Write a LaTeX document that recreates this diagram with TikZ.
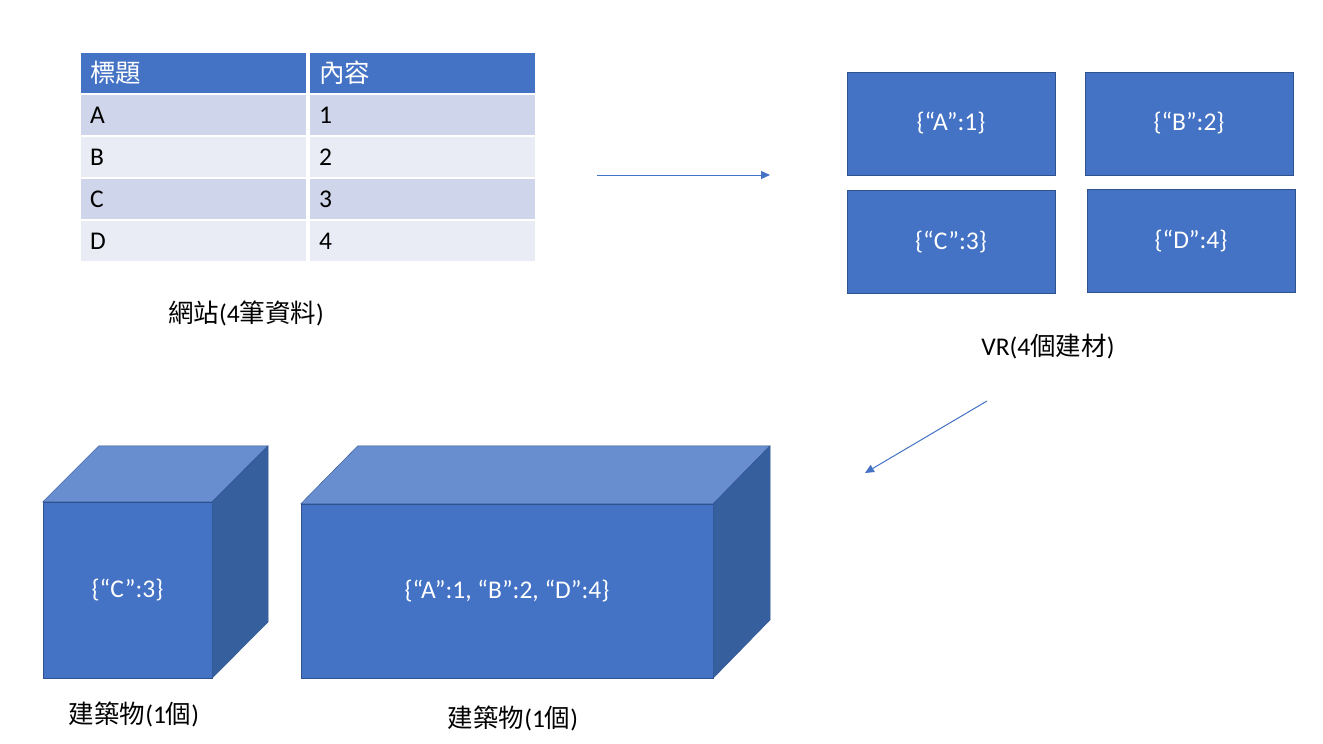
\documentclass[tikz,border=0pt]{standalone}
\usepackage{fontspec}
\setmainfont{Carlito}
\newfontfamily\cjk{Noto Sans CJK TC}
\usetikzlibrary{arrows.meta}
\definecolor{mainblue}{HTML}{4472C4}
\definecolor{edgeblue}{HTML}{2F528F}
\definecolor{topblue}{HTML}{698ED0}
\definecolor{sideblue}{HTML}{365F9E}
\definecolor{rowdark}{HTML}{CFD5EA}
\definecolor{rowlight}{HTML}{E9EBF5}
\begin{document}
\begin{tikzpicture}[x=1pt,y=-1pt]

    \tikzset{txt/.style={font=\fontsize{25.5}{30}\selectfont},
             cellstyle/.style={txt,rectangle,draw=white,line width=2pt,anchor=north west,
                               minimum height=42,inner xsep=10,text width=207,align=left},
             headcell/.style={cellstyle,fill=mainblue,text=white},
             darkcell/.style={cellstyle,fill=rowdark},
             lightcell/.style={cellstyle,fill=rowlight},
             vrbox/.style={txt,rectangle,draw=edgeblue,fill=mainblue,text=white,
                           minimum width=208,minimum height=103},
             front/.style={txt,rectangle,draw=edgeblue,fill=mainblue,text=white},
             arrowline/.style={draw=mainblue,line width=1pt,-{Triangle[length=9,width=8]}}}

    \useasboundingbox (0,0) rectangle (1323,744);

    % table
    \node[headcell] (h1) at ( 79, 51) {\cjk 標題};
    \node[headcell] (h2) at (308, 51) {\cjk 內容};
    \node[darkcell] (a1) at ( 79, 93) {A};
    \node[darkcell] (a2) at (308, 93) {1};
    \node[lightcell] (b1) at ( 79,135) {B};
    \node[lightcell] (b2) at (308,135) {2};
    \node[darkcell] (c1) at ( 79,177) {C};
    \node[darkcell] (c2) at (308,177) {3};
    \node[lightcell] (d1) at ( 79,219) {D};
    \node[lightcell] (d2) at (308,219) {4};
    \node[txt] (web) at (246,313) {{\cjk 網站}(4{\cjk 筆資料})};

    % VR
    \node[vrbox] (vrA) at ( 951,123.5) {\{“A”:1\}};
    \node[vrbox] (vrB) at (1189,123.5) {\{“B”:2\}};
    \node[vrbox] (vrC) at ( 951,242) {\{“C”:3\}};
    \node[vrbox] (vrD) at (1191,241) {\{“D”:4\}};
    \node[txt] (vr) at (1048,347) {VR(4{\cjk 個建材})};

    \coordinate (s1) at (597,175);
    \coordinate (e1) at (770,175);
    \coordinate (s2) at (987,401);
    \coordinate (e2) at (865,473);
    \draw[arrowline] (s1) -- (e1);
    \draw[arrowline] (s2) -- (e2);

    % buildings
    \node[front,minimum width=169,minimum height=176] (cubeC) at (127.5,590) {\{“C”:3\}};
    \filldraw[fill=topblue,draw=edgeblue] (cubeC.north west) -- ++(56,-56) -- ++(169,0) -- (cubeC.north east) -- cycle;
    \filldraw[fill=sideblue,draw=edgeblue] (cubeC.north east) -- ++(56,-56) -- ++(0,176) -- (cubeC.south east) -- cycle;

    \node[front,minimum width=412,minimum height=174] (cubeABD) at (507,591) {\{“A”:1, “B”:2, “D”:4\}};
    \filldraw[fill=topblue,draw=edgeblue] (cubeABD.north west) -- ++(57,-58) -- ++(412,0) -- (cubeABD.north east) -- cycle;
    \filldraw[fill=sideblue,draw=edgeblue] (cubeABD.north east) -- ++(57,-58) -- ++(0,174) -- (cubeABD.south east) -- cycle;

    \node[txt] (b1lbl) at (134,714) {{\cjk 建築物}(1{\cjk 個})};
    \node[txt] (b2lbl) at (513,718) {{\cjk 建築物}(1{\cjk 個})};

\end{tikzpicture}
\end{document}
